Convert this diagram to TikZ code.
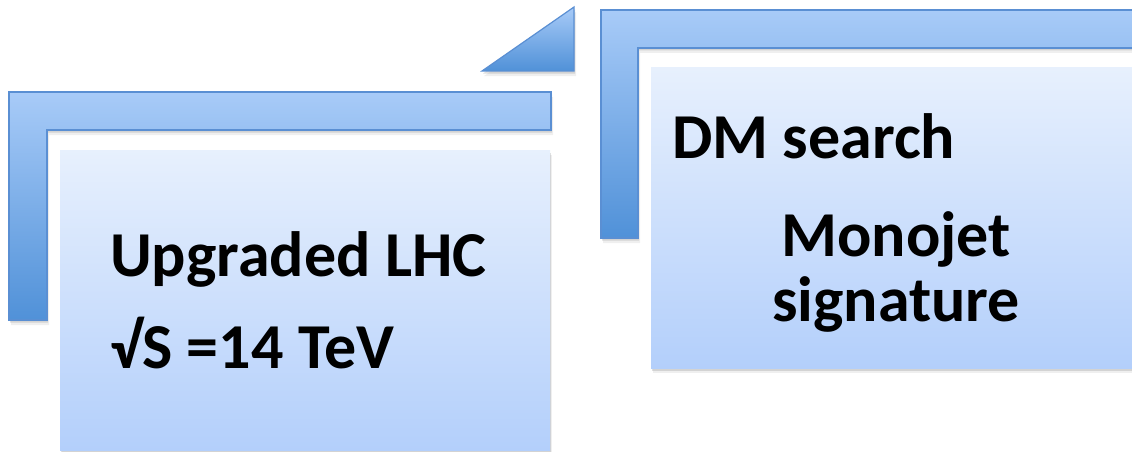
\documentclass[tikz,border=0pt]{standalone}
\usepackage{fontspec}
\setmainfont{Carlito}
\usetikzlibrary{shadows}
\definecolor{brtop}{HTML}{A8CBF8}
\definecolor{brbot}{HTML}{5091D8}
\definecolor{brline}{HTML}{5A8FD3}
\definecolor{bxtop}{HTML}{E7F0FD}
\definecolor{bxbot}{HTML}{B3CFFB}
\tikzset{
  softshadow/.style={
    drop shadow={opacity=0.12, shadow xshift=2pt, shadow yshift=-5pt},
    drop shadow={opacity=0.25, shadow xshift=1pt, shadow yshift=-2.5pt}},
  bracket/.style={draw=brline, line width=1.2pt, top color=brtop, bottom color=brbot, softshadow},
  panel/.style={top color=bxtop, bottom color=bxbot, softshadow},
  txt/.style={font=\fontsize{64}{64}\selectfont\bfseries, anchor=base west, inner sep=0pt},
  ctxt/.style={font=\fontsize{64}{64}\selectfont\bfseries, anchor=base, inner sep=0pt}
}
\begin{document}
\begin{tikzpicture}[x=1pt,y=-1pt]
\useasboundingbox[fill=white] (0,0) rectangle (1132,452);
% left bracket
\path[bracket] (9,92) -- (551,92) -- (551,130) -- (47,130) -- (47,320) -- (9,320) -- cycle;
% left panel
\path[panel] (60,150) rectangle (550,450);
% triangle
\path[bracket] (482,71) -- (574,7) -- (574,71) -- cycle;
% right bracket
\path[bracket] (601,10) -- (1150,10) -- (1150,48) -- (638,48) -- (638,238) -- (601,238) -- cycle;
% right panel
\path[panel] (651,68) rectangle (1150,368);
% texts
\node[txt] (t1) at (110,276) {Upgraded LHC};
\node[txt] (t2) at (110,368) {√S =14 TeV};
\node[txt] (t3) at (672,158) {DM search};
\node[ctxt] (t4) at (896,256) {Monojet};
\node[ctxt] (t5) at (896,321) {signature};
\end{tikzpicture}
\end{document}
